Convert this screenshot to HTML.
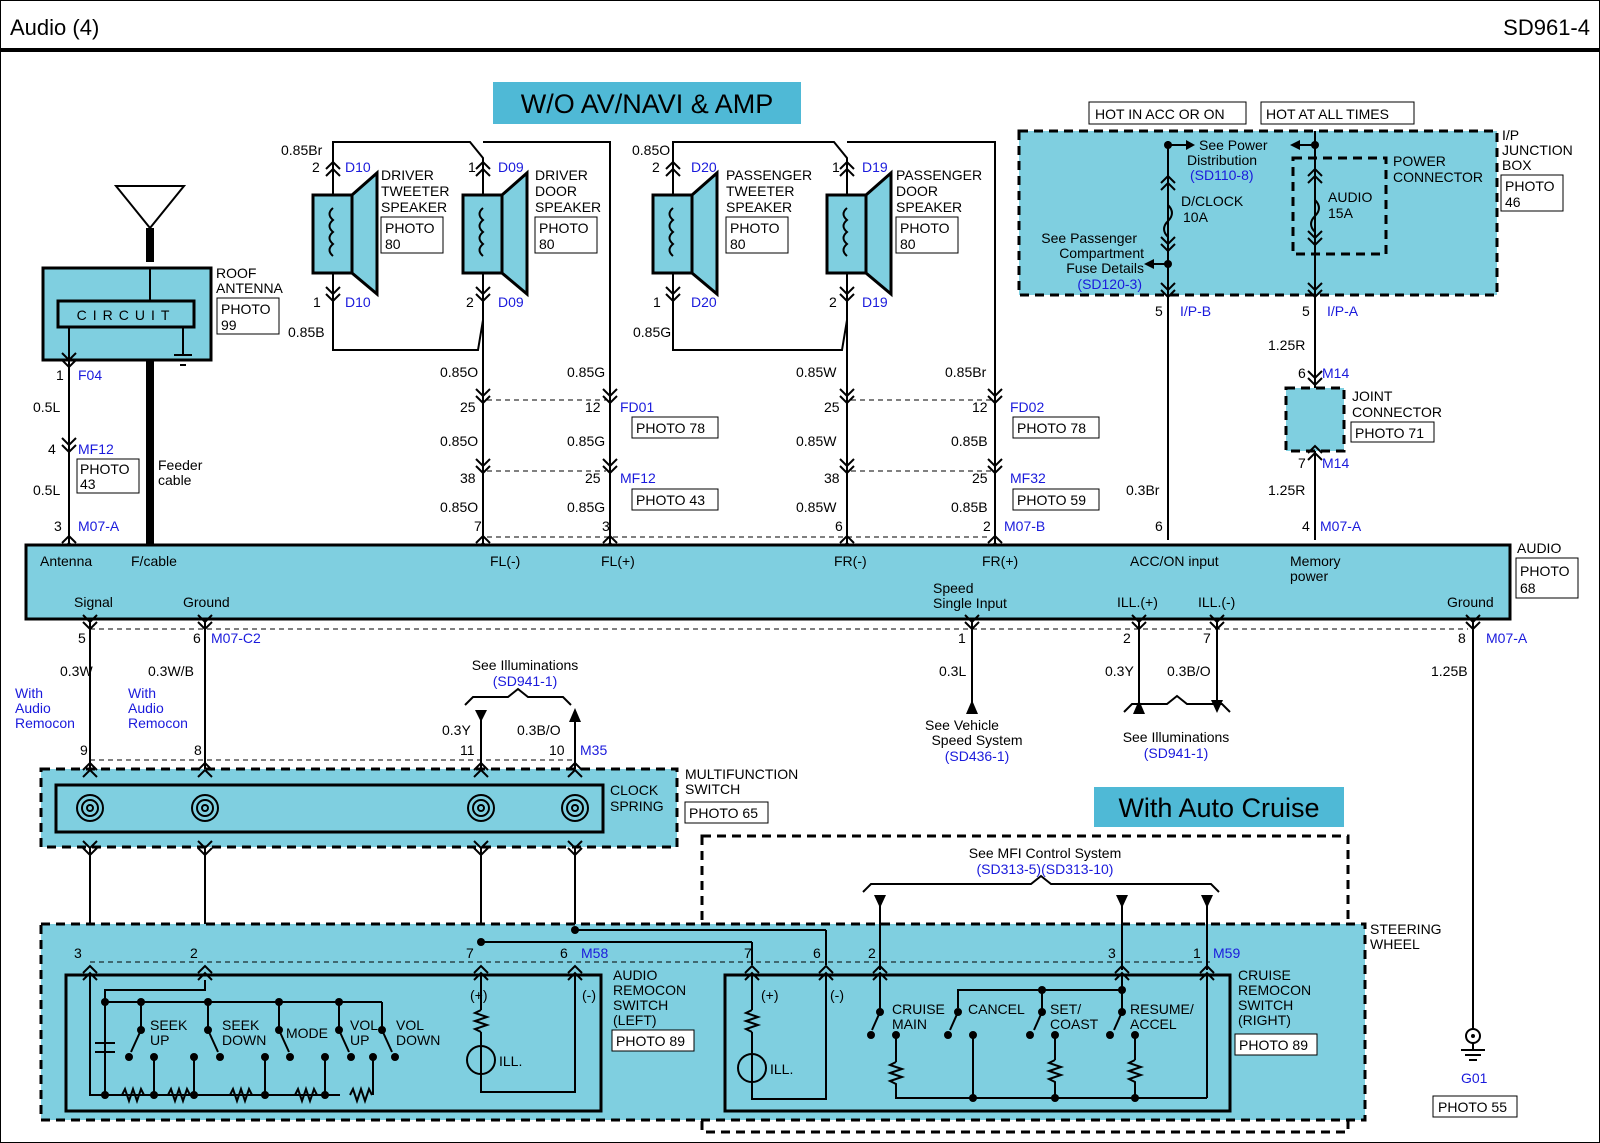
<!DOCTYPE html>
<html><head><meta charset="utf-8"><style>
html,body{margin:0;padding:0;background:#fff}
svg{display:block}
text{font-family:"Liberation Sans",sans-serif;font-size:14px;fill:#000}
.b{fill:#1a1adc}
.c{fill:#7fcfe0}
.w{stroke:#000;stroke-width:2;fill:none}
.t{stroke:#000;stroke-width:3;fill:none}
.d{stroke:#000;stroke-width:3;fill:none;stroke-dasharray:9,6}
.dl{stroke:#000;stroke-width:1;fill:none;stroke-dasharray:5,4}
.bx{fill:#fff;stroke:#000;stroke-width:1}
</style></head><body>
<svg width="1600" height="1143" viewBox="0 0 1600 1143" xmlns="http://www.w3.org/2000/svg">
<defs>
<g id="cu"><polyline points="-7,6 0,-1 7,6" class="w"/><polyline points="-7,13 0,6 7,13" class="w"/></g>
<g id="cd"><polyline points="-7,-6 0,1 7,-6" class="w"/><polyline points="-7,-13 0,-6 7,-13" class="w"/></g>
<g id="sp">
<rect x="-20" y="195" width="39" height="78" class="c" stroke="#000" stroke-width="3"/>
<polygon points="19,195 44,173 44,294 19,273" class="c" stroke="#000" stroke-width="3"/>
<path d="M0,208 q-7,6 0,12 q-7,6 0,12 q-7,6 0,12 q-7,6 0,12" class="w"/>
<use href="#cu" x="0" y="163"/><use href="#cd" x="0" y="300"/>
</g>
</defs>
<rect x="0.5" y="0.5" width="1599" height="1142" fill="none" stroke="#000"/>
<text x="10" y="35" style="font-size:22px">Audio (4)</text>
<text x="1590" y="35" text-anchor="end" style="font-size:22px">SD961-4</text>
<line x1="0" y1="50" x2="1600" y2="50" stroke="#000" stroke-width="4"/>

<rect x="493" y="82" width="308" height="42" fill="#4fb9d6"/>
<text x="647" y="113" text-anchor="middle" style="font-size:27px">W/O AV/NAVI &amp; AMP</text>
<rect x="1094" y="787" width="250" height="40" fill="#4fb9d6"/>
<text x="1219" y="817" text-anchor="middle" style="font-size:27px">With  Auto Cruise</text>

<!-- junction box -->
<rect x="1019" y="131" width="478" height="164" class="c"/>
<rect x="1019" y="131" width="478" height="164" class="d"/>
<rect x="1293" y="158" width="93" height="96" class="d"/>
<rect x="1089" y="102" width="157" height="22" class="bx"/><text x="1095" y="119">HOT IN ACC OR ON</text>
<rect x="1261" y="102" width="153" height="22" class="bx"/><text x="1266" y="119">HOT AT ALL TIMES</text>
<line x1="1168" y1="141" x2="1168" y2="540" class="w"/>
<line x1="1315" y1="131" x2="1315" y2="540" class="w"/>
<line x1="1168" y1="145" x2="1188" y2="145" class="w"/><polygon points="1186,140 1195,145 1186,150"/>
<line x1="1315" y1="145" x2="1298" y2="145" class="w"/><polygon points="1300,140 1290,145 1300,150"/>
<circle cx="1168" cy="145" r="4"/><circle cx="1315" cy="145" r="4"/>
<line x1="1168" y1="264" x2="1152" y2="264" class="w"/><polygon points="1154,259 1144,264 1154,269"/><circle cx="1168" cy="264" r="4"/>
<text x="1199" y="150">See Power</text><text x="1187" y="165">Distribution</text><text x="1190" y="180" class="b">(SD110-8)</text>
<text x="1181" y="206">D/CLOCK</text><text x="1183" y="222">10A</text>
<text x="1328" y="202">AUDIO</text><text x="1328" y="218">15A</text>
<text x="1393" y="166">POWER</text><text x="1393" y="182">CONNECTOR</text>
<text x="1137" y="243" text-anchor="end">See Passenger</text><text x="1144" y="258" text-anchor="end">Compartment</text><text x="1144" y="273" text-anchor="end">Fuse Details</text><text x="1142" y="289" text-anchor="end" class="b">(SD120-3)</text>
<text x="1502" y="140">I/P</text><text x="1502" y="155">JUNCTION</text><text x="1502" y="170">BOX</text>
<rect x="1501" y="175" width="62" height="36" class="bx"/><text x="1505" y="191">PHOTO</text><text x="1505" y="207">46</text>
<path d="M1168,205 q8,8 0,16 q-8,8 0,16" class="w" fill="#7fcfe0"/>
<path d="M1315,200 q8,8 0,16 q-8,8 0,16" class="w"/>
<use href="#cu" x="1168" y="177"/><use href="#cd" x="1168" y="250"/><use href="#cd" x="1168" y="296"/>
<use href="#cu" x="1315" y="170"/><use href="#cd" x="1315" y="244"/><use href="#cd" x="1315" y="296"/>
<text x="1155" y="316">5</text><text x="1180" y="316" class="b">I/P-B</text>
<text x="1302" y="316">5</text><text x="1327" y="316" class="b">I/P-A</text>
<text x="1268" y="350">1.25R</text>
<text x="1298" y="378">6</text><text x="1322" y="378" class="b">M14</text>
<rect x="1286" y="388" width="58" height="63" class="c"/><rect x="1286" y="388" width="58" height="63" class="d"/>
<use href="#cd" x="1315" y="384"/><use href="#cu" x="1315" y="447"/>
<text x="1352" y="401">JOINT</text><text x="1352" y="417">CONNECTOR</text>
<rect x="1351" y="422" width="83" height="20" class="bx"/><text x="1355" y="438">PHOTO 71</text>
<text x="1298" y="468">7</text><text x="1322" y="468" class="b">M14</text>
<text x="1268" y="495">1.25R</text>
<text x="1126" y="495">0.3Br</text>
<text x="1155" y="531">6</text><text x="1302" y="531">4</text><text x="1320" y="531" class="b">M07-A</text>

<!-- antenna -->
<polygon points="116,186 184,186 150,228" fill="#fff" stroke="#000" stroke-width="2"/>
<line x1="150" y1="228" x2="150" y2="262" stroke="#000" stroke-width="8"/>
<rect x="43" y="268" width="168" height="92" class="c" stroke="#000" stroke-width="3"/>
<rect x="58" y="301" width="136" height="26" fill="none" stroke="#000" stroke-width="3"/>
<text x="126" y="320" text-anchor="middle" style="letter-spacing:6px">CIRCUIT</text>
<line x1="150" y1="268" x2="150" y2="301" class="w"/>
<line x1="183" y1="327" x2="183" y2="355" class="w"/>
<line x1="174" y1="355" x2="192" y2="355" class="w"/><line x1="177" y1="360" x2="189" y2="360" class="w"/><line x1="180" y1="365" x2="186" y2="365" class="w"/>
<line x1="69" y1="327" x2="69" y2="545" class="w"/>
<line x1="150" y1="360" x2="150" y2="545" stroke="#000" stroke-width="8"/>
<use href="#cd" x="69" y="366"/><use href="#cd" x="69" y="451"/><use href="#cu" x="69" y="537"/>
<text x="216" y="278">ROOF</text><text x="216" y="293">ANTENNA</text>
<rect x="217" y="298" width="62" height="36" class="bx"/><text x="221" y="314">PHOTO</text><text x="221" y="330">99</text>
<text x="56" y="380">1</text><text x="78" y="380" class="b">F04</text>
<text x="33" y="412">0.5L</text>
<text x="48" y="454">4</text><text x="78" y="454" class="b">MF12</text>
<rect x="77" y="459" width="62" height="34" class="bx"/><text x="80" y="474">PHOTO</text><text x="80" y="489">43</text>
<text x="33" y="495">0.5L</text>
<text x="158" y="470">Feeder</text><text x="158" y="485">cable</text>
<text x="54" y="531">3</text><text x="78" y="531" class="b">M07-A</text>

<!-- driver speakers -->
<polyline points="333,160 333,142 470,142 483,158 483,320 478,350 333,350 333,310" class="w"/>
<line x1="333" y1="160" x2="333" y2="310" class="w"/>
<polyline points="483,142 610,142 610,545" class="w"/>
<line x1="483" y1="320" x2="483" y2="545" class="w"/>
<use href="#sp" x="333" y="0"/><use href="#sp" x="483" y="0"/>
<text x="381" y="180">DRIVER</text><text x="381" y="196">TWEETER</text><text x="381" y="212">SPEAKER</text>
<rect x="381" y="217" width="62" height="36" class="bx"/><text x="385" y="233">PHOTO</text><text x="385" y="249">80</text>
<text x="535" y="180">DRIVER</text><text x="535" y="196">DOOR</text><text x="535" y="212">SPEAKER</text>
<rect x="535" y="217" width="62" height="36" class="bx"/><text x="539" y="233">PHOTO</text><text x="539" y="249">80</text>
<use href="#cd" x="483" y="402"/><use href="#cd" x="483" y="472"/><use href="#cu" x="483" y="537"/>
<use href="#cd" x="610" y="402"/><use href="#cd" x="610" y="472"/><use href="#cu" x="610" y="537"/>
<text x="281" y="155">0.85Br</text><text x="312" y="172">2</text><text x="345" y="172" class="b">D10</text>
<text x="313" y="307">1</text><text x="345" y="307" class="b">D10</text><text x="288" y="337">0.85B</text>
<text x="468" y="172">1</text><text x="498" y="172" class="b">D09</text>
<text x="466" y="307">2</text><text x="498" y="307" class="b">D09</text>

<!-- passenger speakers -->
<polyline points="673,160 673,142 834,142 847,158 847,320 842,350 673,350 673,310" class="w"/>
<line x1="673" y1="160" x2="673" y2="310" class="w"/>
<polyline points="847,142 995,142 995,545" class="w"/>
<line x1="847" y1="320" x2="847" y2="545" class="w"/>
<use href="#sp" x="673" y="0"/><use href="#sp" x="847" y="0"/>
<text x="726" y="180">PASSENGER</text><text x="726" y="196">TWEETER</text><text x="726" y="212">SPEAKER</text>
<rect x="726" y="217" width="62" height="36" class="bx"/><text x="730" y="233">PHOTO</text><text x="730" y="249">80</text>
<text x="896" y="180">PASSENGER</text><text x="896" y="196">DOOR</text><text x="896" y="212">SPEAKER</text>
<rect x="896" y="217" width="62" height="36" class="bx"/><text x="900" y="233">PHOTO</text><text x="900" y="249">80</text>
<use href="#cd" x="847" y="402"/><use href="#cd" x="847" y="472"/><use href="#cu" x="847" y="537"/>
<use href="#cd" x="995" y="402"/><use href="#cd" x="995" y="472"/><use href="#cu" x="995" y="537"/>
<text x="632" y="155">0.85O</text><text x="652" y="172">2</text><text x="691" y="172" class="b">D20</text>
<text x="653" y="307">1</text><text x="691" y="307" class="b">D20</text><text x="633" y="337">0.85G</text>
<text x="832" y="172">1</text><text x="862" y="172" class="b">D19</text>
<text x="829" y="307">2</text><text x="862" y="307" class="b">D19</text>

<line x1="487" y1="400" x2="606" y2="400" class="dl"/><line x1="487" y1="471" x2="606" y2="471" class="dl"/>
<line x1="851" y1="400" x2="991" y2="400" class="dl"/><line x1="851" y1="471" x2="991" y2="471" class="dl"/>
<line x1="487" y1="537" x2="991" y2="537" class="dl"/>
<text x="440" y="377">0.85O</text><text x="567" y="377">0.85G</text>
<text x="460" y="412">25</text><text x="585" y="412">12</text><text x="620" y="412" class="b">FD01</text>
<rect x="632" y="417" width="86" height="21" class="bx"/><text x="636" y="433">PHOTO 78</text>
<text x="440" y="446">0.85O</text><text x="567" y="446">0.85G</text>
<text x="460" y="483">38</text><text x="585" y="483">25</text><text x="620" y="483" class="b">MF12</text>
<rect x="632" y="489" width="86" height="21" class="bx"/><text x="636" y="505">PHOTO 43</text>
<text x="440" y="512">0.85O</text><text x="567" y="512">0.85G</text>
<text x="474" y="531">7</text><text x="602" y="531">3</text>
<text x="796" y="377">0.85W</text><text x="945" y="377">0.85Br</text>
<text x="824" y="412">25</text><text x="972" y="412">12</text><text x="1010" y="412" class="b">FD02</text>
<rect x="1013" y="417" width="86" height="21" class="bx"/><text x="1017" y="433">PHOTO 78</text>
<text x="796" y="446">0.85W</text><text x="951" y="446">0.85B</text>
<text x="824" y="483">38</text><text x="972" y="483">25</text><text x="1010" y="483" class="b">MF32</text>
<rect x="1013" y="489" width="86" height="21" class="bx"/><text x="1017" y="505">PHOTO 59</text>
<text x="796" y="512">0.85W</text><text x="951" y="512">0.85B</text>
<text x="835" y="531">6</text><text x="983" y="531">2</text><text x="1004" y="531" class="b">M07-B</text>

<!-- audio unit -->
<rect x="26" y="545" width="1484" height="74" class="c" stroke="#000" stroke-width="3"/>
<text x="40" y="566">Antenna</text><text x="131" y="566">F/cable</text>
<text x="490" y="566">FL(-)</text><text x="601" y="566">FL(+)</text><text x="834" y="566">FR(-)</text><text x="982" y="566">FR(+)</text>
<text x="1130" y="566">ACC/ON input</text><text x="1290" y="566">Memory</text><text x="1290" y="581">power</text>
<text x="74" y="607">Signal</text><text x="183" y="607">Ground</text>
<text x="933" y="593">Speed</text><text x="933" y="608">Single Input</text>
<text x="1117" y="607">ILL.(+)</text><text x="1198" y="607">ILL.(-)</text><text x="1447" y="607">Ground</text>
<text x="1517" y="553">AUDIO</text>
<rect x="1516" y="558" width="62" height="40" class="bx"/><text x="1520" y="576">PHOTO</text><text x="1520" y="593">68</text>

<!-- below audio -->
<line x1="90" y1="629" x2="1468" y2="629" class="dl"/>
<line x1="90" y1="619" x2="90" y2="1090" class="w"/><line x1="205" y1="619" x2="205" y2="1090" class="w"/>
<line x1="972" y1="619" x2="972" y2="705" class="w"/><polygon points="966,714 972,700 978,714"/>
<line x1="1139" y1="619" x2="1139" y2="705" class="w"/><polygon points="1133,714 1139,700 1145,714"/>
<line x1="1217" y1="619" x2="1217" y2="700" class="w"/><polygon points="1211,700 1217,713 1223,700"/>
<line x1="1473" y1="619" x2="1473" y2="1030" class="w"/>
<use href="#cd" x="90" y="628"/><use href="#cd" x="205" y="628"/><use href="#cd" x="972" y="628"/><use href="#cd" x="1139" y="628"/><use href="#cd" x="1217" y="628"/><use href="#cd" x="1473" y="628"/>
<text x="78" y="643">5</text><text x="193" y="643">6</text><text x="211" y="643" class="b">M07-C2</text>
<text x="958" y="643">1</text><text x="1123" y="643">2</text><text x="1203" y="643">7</text><text x="1458" y="643">8</text><text x="1486" y="643" class="b">M07-A</text>
<text x="60" y="676">0.3W</text><text x="148" y="676">0.3W/B</text>
<text x="15" y="698" class="b">With</text><text x="15" y="713" class="b">Audio</text><text x="15" y="728" class="b">Remocon</text>
<text x="128" y="698" class="b">With</text><text x="128" y="713" class="b">Audio</text><text x="128" y="728" class="b">Remocon</text>
<text x="939" y="676">0.3L</text><text x="1105" y="676">0.3Y</text><text x="1167" y="676">0.3B/O</text><text x="1431" y="676">1.25B</text>
<text x="962" y="730" text-anchor="middle">See Vehicle</text><text x="977" y="745" text-anchor="middle">Speed System</text><text x="977" y="761" text-anchor="middle" class="b">(SD436-1)</text>
<path d="M1124,712 l8,-8 h35 l10,-8 l10,8 h35 l8,8" class="w" stroke-width="1"/>
<text x="1176" y="742" text-anchor="middle">See Illuminations</text><text x="1176" y="758" text-anchor="middle" class="b">(SD941-1)</text>
<text x="525" y="670" text-anchor="middle">See Illuminations</text><text x="525" y="686" text-anchor="middle" class="b">(SD941-1)</text>
<path d="M465,705 l8,-8 h35 l10,-8 l10,8 h35 l8,8" class="w" stroke-width="1"/>
<line x1="481" y1="710" x2="481" y2="965" class="w"/><polygon points="475,710 481,722 487,710"/>
<line x1="575" y1="715" x2="575" y2="965" class="w"/><polygon points="569,722 575,708 581,722"/>
<text x="442" y="735">0.3Y</text><text x="517" y="735">0.3B/O</text>
<text x="80" y="755">9</text><text x="194" y="755">8</text><text x="460" y="755">11</text><text x="549" y="755">10</text><text x="580" y="755" class="b">M35</text>
<line x1="90" y1="760" x2="575" y2="760" class="dl"/>

<!-- multifunction -->
<rect x="41" y="769" width="636" height="78" class="c"/><rect x="41" y="769" width="636" height="78" class="d"/>
<rect x="56" y="785" width="547" height="47" fill="none" stroke="#000" stroke-width="3"/>
<use href="#cu" x="90" y="764"/><use href="#cu" x="205" y="764"/><use href="#cu" x="481" y="764"/><use href="#cu" x="575" y="764"/>
<use href="#cd" x="90" y="854"/><use href="#cd" x="205" y="854"/><use href="#cd" x="481" y="854"/><use href="#cd" x="575" y="854"/>
<g class="w"><circle cx="90" cy="808" r="13"/><circle cx="90" cy="808" r="8"/><circle cx="90" cy="808" r="3"/>
<circle cx="205" cy="808" r="13"/><circle cx="205" cy="808" r="8"/><circle cx="205" cy="808" r="3"/>
<circle cx="481" cy="808" r="13"/><circle cx="481" cy="808" r="8"/><circle cx="481" cy="808" r="3"/>
<circle cx="575" cy="808" r="13"/><circle cx="575" cy="808" r="8"/><circle cx="575" cy="808" r="3"/></g>
<text x="610" y="795">CLOCK</text><text x="610" y="811">SPRING</text>
<text x="685" y="779">MULTIFUNCTION</text><text x="685" y="794">SWITCH</text>
<rect x="685" y="802" width="83" height="21" class="bx"/><text x="689" y="818">PHOTO 65</text>

<!-- cruise dashed -->
<rect x="702" y="836" width="646" height="296" class="d"/>
<text x="1045" y="858" text-anchor="middle">See MFI Control System</text>
<text x="1045" y="874" text-anchor="middle" class="b">(SD313-5)(SD313-10)</text>
<path d="M863,892 l8,-8 h160 l10,-8 l10,8 h160 l8,8" class="w" stroke-width="1"/>

<!-- steering wheel -->
<rect x="41" y="924" width="1324" height="196" class="c"/><rect x="41" y="924" width="1324" height="196" class="d"/>
<text x="1370" y="934">STEERING</text><text x="1370" y="949">WHEEL</text>
<rect x="66" y="975" width="535" height="136" fill="none" stroke="#000" stroke-width="3"/>
<rect x="725" y="975" width="505" height="136" fill="none" stroke="#000" stroke-width="3"/>
<line x1="90" y1="962" x2="1210" y2="962" class="dl"/>
<line x1="481" y1="942" x2="752" y2="942" class="w"/><line x1="752" y1="942" x2="752" y2="965" class="w"/>
<line x1="575" y1="930" x2="826" y2="930" class="w"/><line x1="826" y1="930" x2="826" y2="965" class="w"/>
<circle cx="481" cy="942" r="4"/><circle cx="575" cy="930" r="4"/>
<line x1="880" y1="895" x2="880" y2="970" class="w"/><polygon points="874,895 880,908 886,895"/>
<line x1="1122" y1="895" x2="1122" y2="970" class="w"/><polygon points="1116,895 1122,908 1128,895"/>
<line x1="1207" y1="895" x2="1207" y2="970" class="w"/><polygon points="1201,895 1207,908 1213,895"/>
<g>
<use href="#cu" x="90" y="967"/><use href="#cu" x="205" y="967"/><use href="#cu" x="481" y="967"/><use href="#cu" x="575" y="967"/>
<use href="#cu" x="752" y="967"/><use href="#cu" x="826" y="967"/><use href="#cu" x="880" y="967"/><use href="#cu" x="1122" y="967"/><use href="#cu" x="1207" y="967"/>
</g>
<text x="74" y="958">3</text><text x="190" y="958">2</text><text x="466" y="958">7</text><text x="560" y="958">6</text><text x="581" y="958" class="b">M58</text>
<text x="744" y="958">7</text><text x="813" y="958">6</text><text x="868" y="958">2</text><text x="1108" y="958">3</text><text x="1193" y="958">1</text><text x="1213" y="958" class="b">M59</text>
<text x="613" y="980">AUDIO</text><text x="613" y="995">REMOCON</text><text x="613" y="1010">SWITCH</text><text x="613" y="1025">(LEFT)</text>
<rect x="612" y="1030" width="82" height="21" class="bx"/><text x="616" y="1046">PHOTO 89</text>
<text x="1238" y="980">CRUISE</text><text x="1238" y="995">REMOCON</text><text x="1238" y="1010">SWITCH</text><text x="1238" y="1025">(RIGHT)</text>
<rect x="1235" y="1034" width="82" height="21" class="bx"/><text x="1239" y="1050">PHOTO 89</text>

<!-- audio switches -->
<polyline points="205,980 205,990 105,990 105,1095 90,1095 90,975" class="w"/>
<line x1="105" y1="1002" x2="382" y2="1002" class="w"/>
<line x1="95" y1="1043" x2="115" y2="1043" class="w"/><line x1="95" y1="1052" x2="115" y2="1052" class="w"/>
<line x1="105" y1="1002" x2="105" y2="1043" class="w"/><line x1="105" y1="1052" x2="105" y2="1095" class="w"/>
<line x1="105" y1="1095" x2="340" y2="1095" class="w"/>
<g class="w" stroke-width="1.5">
<path d="M122,1095 l3,-6 l4,12 l4,-12 l4,12 l4,-12 l3,6"/>
<path d="M168,1095 l3,-6 l4,12 l4,-12 l4,12 l4,-12 l3,6"/>
<path d="M230,1095 l3,-6 l4,12 l4,-12 l4,12 l4,-12 l3,6"/>
<path d="M295,1095 l3,-6 l4,12 l4,-12 l4,12 l4,-12 l3,6"/>
<path d="M350,1095 l3,-6 l4,12 l4,-12 l4,12 l4,-12 l3,6"/>
</g>
<g>
<circle cx="105" cy="1002" r="4"/><circle cx="141" cy="1002" r="4"/><circle cx="208" cy="1002" r="4"/><circle cx="279" cy="1002" r="4"/><circle cx="339" cy="1002" r="4"/>
<circle cx="105" cy="1095" r="4"/><circle cx="154" cy="1095" r="4"/><circle cx="194" cy="1095" r="4"/><circle cx="265" cy="1095" r="4"/><circle cx="325" cy="1095" r="4"/>
</g>
<g class="w" stroke-width="1.5">
<line x1="141" y1="1002" x2="141" y2="1030"/><line x1="141" y1="1030" x2="131" y2="1052"/><circle cx="141" cy="1030" r="3" fill="#000"/><circle cx="129" cy="1057" r="3" fill="#000"/><circle cx="154" cy="1057" r="3" fill="#000"/><line x1="154" y1="1057" x2="154" y2="1095"/>
<line x1="208" y1="1002" x2="208" y2="1030"/><line x1="208" y1="1030" x2="218" y2="1052"/><circle cx="208" cy="1030" r="3" fill="#000"/><circle cx="194" cy="1057" r="3" fill="#000"/><circle cx="220" cy="1057" r="3" fill="#000"/><line x1="194" y1="1057" x2="194" y2="1095"/>
<line x1="279" y1="1002" x2="279" y2="1030"/><line x1="279" y1="1030" x2="289" y2="1052"/><circle cx="279" cy="1030" r="3" fill="#000"/><circle cx="265" cy="1057" r="3" fill="#000"/><circle cx="290" cy="1057" r="3" fill="#000"/><line x1="265" y1="1057" x2="265" y2="1095"/>
<line x1="339" y1="1002" x2="339" y2="1030"/><line x1="339" y1="1030" x2="349" y2="1052"/><circle cx="339" cy="1030" r="3" fill="#000"/><circle cx="325" cy="1057" r="3" fill="#000"/><circle cx="351" cy="1057" r="3" fill="#000"/><line x1="325" y1="1057" x2="325" y2="1095"/>
<line x1="382" y1="1002" x2="382" y2="1030"/><line x1="382" y1="1030" x2="392" y2="1052"/><circle cx="382" cy="1030" r="3" fill="#000"/><circle cx="373" cy="1057" r="3" fill="#000"/><circle cx="395" cy="1057" r="3" fill="#000"/><line x1="373" y1="1057" x2="373" y2="1095"/>
</g>
<text x="150" y="1030">SEEK</text><text x="150" y="1045">UP</text>
<text x="222" y="1030">SEEK</text><text x="222" y="1045">DOWN</text>
<text x="286" y="1038">MODE</text>
<text x="350" y="1030">VOL</text><text x="350" y="1045">UP</text>
<text x="396" y="1030">VOL</text><text x="396" y="1045">DOWN</text>
<polyline points="481,975 481,1010" class="w"/><path d="M481,1010 l-6,3 l12,4 l-12,4 l12,4 l-12,4 l6,3" class="w" stroke-width="1.5"/>
<polyline points="481,1032 481,1092 575,1092 575,975" class="w"/>
<circle cx="481" cy="1060" r="14" class="w" fill="#7fcfe0"/>
<text x="470" y="1000">(+)</text><text x="582" y="1000">(-)</text><text x="499" y="1066">ILL.</text>

<!-- cruise switches -->
<polyline points="752,975 752,1010" class="w"/><path d="M752,1010 l-6,3 l12,4 l-12,4 l12,4 l-12,4 l6,3" class="w" stroke-width="1.5"/>
<polyline points="752,1032 752,1099 826,1099 826,975" class="w"/>
<circle cx="752" cy="1068" r="14" class="w" fill="#7fcfe0"/>
<text x="761" y="1000">(+)</text><text x="830" y="1000">(-)</text><text x="770" y="1074">ILL.</text>
<line x1="880" y1="975" x2="880" y2="1012" class="w"/>
<polyline points="958,1008 958,990 1122,990" class="w"/><line x1="1122" y1="975" x2="1122" y2="990" class="w"/>
<line x1="1042" y1="990" x2="1042" y2="1010" class="w"/>
<line x1="1122" y1="990" x2="1122" y2="1010" class="w"/>
<circle cx="1042" cy="990" r="4"/><circle cx="1122" cy="990" r="4"/>
<line x1="1207" y1="975" x2="1207" y2="1098" class="w"/>
<polyline points="896,1090 896,1098 1207,1098" class="w"/>
<g class="w" stroke-width="1.5">
<line x1="880" y1="1012" x2="872" y2="1030"/><circle cx="880" cy="1012" r="3" fill="#000"/><circle cx="871" cy="1035" r="3" fill="#000"/><circle cx="896" cy="1035" r="3" fill="#000"/><line x1="896" y1="1035" x2="896" y2="1062"/><path d="M896,1062 l-6,3 l12,4 l-12,4 l12,4 l-12,4 l6,3 v8"/>
<line x1="958" y1="1012" x2="950" y2="1030"/><circle cx="958" cy="1012" r="3" fill="#000"/><circle cx="948" cy="1035" r="3" fill="#000"/><circle cx="973" cy="1035" r="3" fill="#000"/><line x1="973" y1="1035" x2="973" y2="1098"/>
<line x1="1042" y1="1012" x2="1034" y2="1030"/><circle cx="1042" cy="1012" r="3" fill="#000"/><circle cx="1030" cy="1035" r="3" fill="#000"/><circle cx="1055" cy="1035" r="3" fill="#000"/><line x1="1055" y1="1035" x2="1055" y2="1060"/><path d="M1055,1060 l-6,3 l12,4 l-12,4 l12,4 l-12,4 l6,3 v18"/>
<line x1="1122" y1="1012" x2="1114" y2="1030"/><circle cx="1122" cy="1012" r="3" fill="#000"/><circle cx="1110" cy="1035" r="3" fill="#000"/><circle cx="1135" cy="1035" r="3" fill="#000"/><line x1="1135" y1="1035" x2="1135" y2="1060"/><path d="M1135,1060 l-6,3 l12,4 l-12,4 l12,4 l-12,4 l6,3 v18"/>
</g>
<circle cx="973" cy="1098" r="4"/><circle cx="1055" cy="1098" r="4"/><circle cx="1135" cy="1098" r="4"/>
<text x="892" y="1014">CRUISE</text><text x="892" y="1029">MAIN</text>
<text x="968" y="1014">CANCEL</text>
<text x="1050" y="1014">SET/</text><text x="1050" y="1029">COAST</text>
<text x="1130" y="1014">RESUME/</text><text x="1130" y="1029">ACCEL</text>

<!-- ground G01 -->
<circle cx="1473" cy="1036" r="7" class="w"/><circle cx="1473" cy="1036" r="2"/>
<line x1="1473" y1="1043" x2="1473" y2="1050" class="w"/>
<line x1="1461" y1="1050" x2="1485" y2="1050" class="w"/><line x1="1465" y1="1055" x2="1481" y2="1055" class="w"/><line x1="1469" y1="1060" x2="1477" y2="1060" class="w"/>
<text x="1461" y="1083" class="b">G01</text>
<rect x="1433" y="1096" width="84" height="21" class="bx"/><text x="1438" y="1112">PHOTO 55</text>
</svg>
</body></html>
